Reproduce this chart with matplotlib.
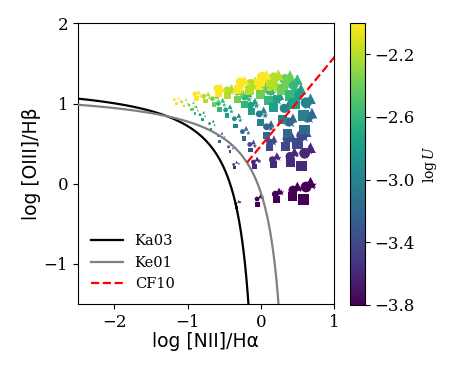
import numpy as np
import matplotlib
matplotlib.use("Agg")
import matplotlib.pyplot as plt
from matplotlib.colors import Normalize

plt.rcParams['font.family'] = ['DejaVu Serif']
plt.rcParams['mathtext.fontset'] = 'dejavuserif'

# ionisation parameter levels (colour)
logU_levels = [-2.0, -2.2, -2.4, -2.6, -2.8, -3.0, -3.2, -3.4, -3.6, -3.8]
# metallicity steps -> marker size
z_sizes = [4, 12, 25, 42, 60]

# tracks per marker type: x = log[NII]/Ha, y = log[OIII]/Hb ; one row per logU level
circ_x = [[-1.18, -0.9, -0.6, -0.28, 0.02], [-1.08, -0.78, -0.46, -0.14, 0.18],
          [-0.98, -0.66, -0.32, 0.02, 0.33], [-0.93, -0.58, -0.22, 0.12, 0.44],
          [-0.83, -0.48, -0.14, 0.2, 0.5], [-0.7, -0.36, -0.02, 0.32, 0.62],
          [-0.58, -0.25, 0.08, 0.38, 0.64], [-0.44, -0.15, 0.12, 0.36, 0.56],
          [-0.37, -0.1, 0.16, 0.4, 0.6], [-0.34, -0.05, 0.2, 0.44, 0.62]]
circ_y = [[1.05, 1.12, 1.19, 1.27, 1.33], [1.02, 1.09, 1.17, 1.25, 1.32],
          [0.98, 1.06, 1.14, 1.22, 1.3], [0.93, 1.0, 1.08, 1.16, 1.24],
          [0.86, 0.92, 0.98, 1.05, 1.12], [0.75, 0.81, 0.87, 0.94, 1.01],
          [0.6, 0.65, 0.71, 0.77, 0.83], [0.46, 0.49, 0.52, 0.56, 0.6],
          [0.24, 0.27, 0.3, 0.34, 0.38], [-0.25, -0.19, -0.13, -0.08, -0.04]]

tri_x = [[-1.12, -0.85, -0.55, -0.22, 0.08], [-1.02, -0.72, -0.4, -0.08, 0.24],
         [-0.92, -0.6, -0.26, 0.08, 0.4], [-0.88, -0.52, -0.16, 0.18, 0.5],
         [-0.78, -0.42, -0.08, 0.26, 0.55], [-0.65, -0.3, 0.04, 0.38, 0.68],
         [-0.53, -0.2, 0.14, 0.44, 0.7], [-0.4, -0.1, 0.18, 0.42, 0.62],
         [-0.33, -0.05, 0.22, 0.46, 0.68], [-0.3, 0.0, 0.25, 0.5, 0.68]]
tri_y = [[1.07, 1.14, 1.21, 1.29, 1.35], [1.05, 1.12, 1.2, 1.28, 1.36],
         [1.01, 1.09, 1.17, 1.26, 1.35], [0.96, 1.04, 1.12, 1.21, 1.3],
         [0.89, 0.96, 1.03, 1.1, 1.18], [0.78, 0.85, 0.92, 0.99, 1.06],
         [0.63, 0.69, 0.75, 0.82, 0.88], [0.49, 0.52, 0.56, 0.6, 0.65],
         [0.27, 0.31, 0.35, 0.4, 0.45], [-0.22, -0.15, -0.09, -0.03, 0.02]]

sq_x = [[-1.15, -0.88, -0.58, -0.3, -0.02], [-1.05, -0.76, -0.45, -0.15, 0.15],
        [-0.95, -0.64, -0.32, 0.0, 0.3], [-0.9, -0.56, -0.22, 0.1, 0.4],
        [-0.8, -0.46, -0.12, 0.18, 0.46], [-0.68, -0.34, 0.0, 0.3, 0.58],
        [-0.56, -0.23, 0.08, 0.36, 0.6], [-0.42, -0.14, 0.12, 0.34, 0.5],
        [-0.36, -0.08, 0.18, 0.4, 0.56], [-0.33, -0.04, 0.22, 0.44, 0.58]]
sq_y = [[1.0, 1.06, 1.12, 1.18, 1.24], [0.97, 1.03, 1.1, 1.16, 1.22],
        [0.93, 0.99, 1.05, 1.11, 1.17], [0.88, 0.93, 0.99, 1.04, 1.1],
        [0.8, 0.85, 0.9, 0.95, 1.0], [0.68, 0.72, 0.76, 0.8, 0.85],
        [0.53, 0.56, 0.6, 0.63, 0.67], [0.4, 0.42, 0.45, 0.47, 0.5],
        [0.2, 0.21, 0.24, 0.26, 0.22], [-0.3, -0.26, -0.2, -0.16, -0.2]]

star_x = [[-1.1, -0.82, -0.52, -0.25, 0.05], [-1.0, -0.7, -0.4, -0.1, 0.2],
          [-0.9, -0.58, -0.26, 0.06, 0.36], [-0.86, -0.5, -0.16, 0.16, 0.46],
          [-0.76, -0.4, -0.06, 0.24, 0.52], [-0.63, -0.28, 0.06, 0.36, 0.64],
          [-0.5, -0.17, 0.14, 0.42, 0.67], [-0.38, -0.08, 0.18, 0.4, 0.6],
          [-0.3, -0.02, 0.24, 0.47, 0.66], [-0.28, 0.02, 0.28, 0.52, 0.7]]
star_y = [[1.03, 1.09, 1.16, 1.23, 1.3], [1.0, 1.07, 1.14, 1.21, 1.28],
          [0.96, 1.03, 1.11, 1.19, 1.26], [0.91, 0.98, 1.05, 1.13, 1.2],
          [0.84, 0.9, 0.97, 1.03, 1.09], [0.73, 0.79, 0.85, 0.92, 0.98],
          [0.58, 0.63, 0.69, 0.75, 0.81], [0.44, 0.47, 0.51, 0.55, 0.58],
          [0.25, 0.28, 0.32, 0.37, 0.42], [-0.23, -0.17, -0.11, -0.06, -0.02]]

# CF10 line
cf10_slope, cf10_icpt = 1.1, 0.47

fig = plt.figure(figsize=(4.5, 3.75), dpi=100)
ax = fig.add_axes([0.173, 0.189, 0.569, 0.749])
cax = fig.add_axes([0.778, 0.187, 0.033, 0.752])

norm = Normalize(vmin=-3.8, vmax=-2.0)
cmap = plt.get_cmap('viridis')

sets = [(circ_x, circ_y, 'o'), (tri_x, tri_y, '^'), (sq_x, sq_y, 's'), (star_x, star_y, '*')]
sc = None
for xs, ys, mk in sets:
    for i, lu in enumerate(logU_levels):
        sc = ax.scatter(xs[i], ys[i], c=[lu] * len(xs[i]), s=z_sizes, marker=mk,
                        cmap=cmap, norm=norm, linewidths=0, zorder=3)

# demarcation lines
xk = np.linspace(-2.5, 0.04, 400)
yk = 0.61 / (xk - 0.05) + 1.3
ax.plot(xk, yk, color='black', lw=1.6, label='Ka03', zorder=4)
xe = np.linspace(-2.5, 0.46, 400)
ye = 0.61 / (xe - 0.47) + 1.19
ax.plot(xe, ye, color='gray', lw=1.6, label='Ke01', zorder=4)
mask = xe > -0.6
xs0 = xe[mask][np.argmin(np.abs(ye[mask] - (cf10_slope * xe[mask] + cf10_icpt)))]
xc = np.linspace(xs0, 1.2, 50)
ax.plot(xc, cf10_slope * xc + cf10_icpt, color='red', ls='--', lw=1.6, label='CF10', zorder=4)

ax.set_xlim(-2.5, 1.0)
ax.set_ylim(-1.5, 2.0)
ax.set_xticks([-2, -1, 0, 1])
ax.set_yticks([-1, 0, 1, 2])
ax.tick_params(labelsize=12)
ax.set_xlabel('log [NII]/Hα', fontsize=13.5, family='DejaVu Sans', labelpad=1)
ax.set_ylabel('log [OIII]/Hβ', fontsize=13.5, family='DejaVu Sans', labelpad=2)
ax.legend(loc='lower left', frameon=False, fontsize=10.5, handlelength=2.2,
          bbox_to_anchor=(0.0, 0.0))

cb = fig.colorbar(sc, cax=cax)
cb.set_ticks([-2.2, -2.6, -3.0, -3.4, -3.8])
cb.ax.tick_params(labelsize=12)
cb.set_label(r'$\log U$', fontsize=10)

fig.savefig('out.png', dpi=100)
